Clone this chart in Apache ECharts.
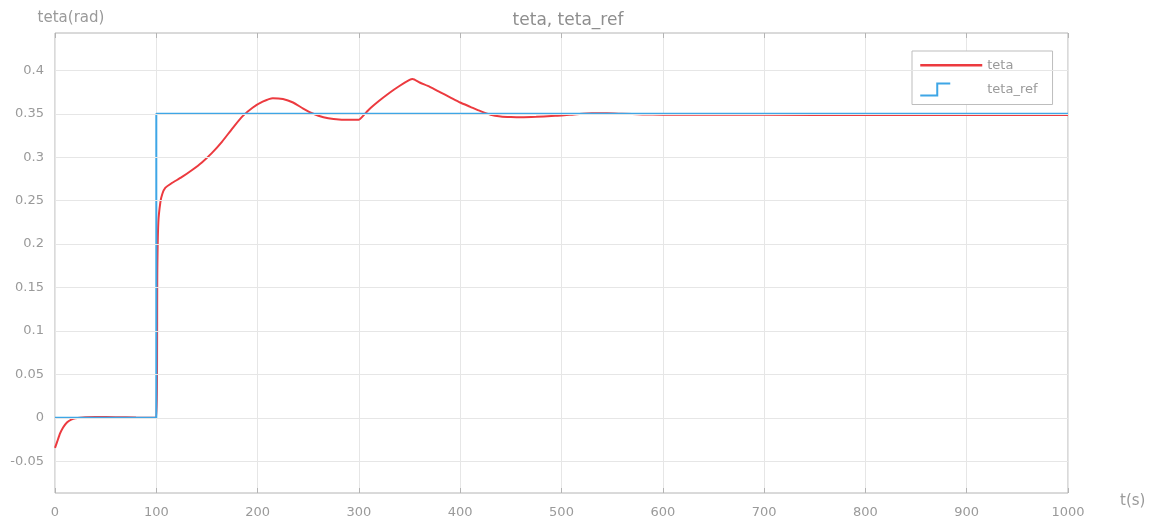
<!DOCTYPE html>
<html>
<head>
<meta charset="utf-8">
<script src="https://cdn.jsdelivr.net/npm/echarts@6/dist/echarts.min.js"></script>
<style>
  html, body { margin: 0; padding: 0; background: #fff; }
  #chart { width: 1153px; height: 524px; }
</style>
</head>
<body>
<div id="chart"></div>
<script>
// Pitch angle response (teta) against its reference (teta_ref)
const tTeta = [0, 2, 5, 8, 12, 16, 20, 30, 40, 60, 80, 100,
  101, 102, 104, 106, 109, 115, 125, 135, 145, 155, 165, 175, 185, 195, 205, 215, 225,
  235, 245, 255, 265, 275, 290, 300, 302, 310, 320, 330, 340, 350, 353, 360, 370, 380,
  390, 400, 410, 420, 430, 440, 450, 460, 475, 490, 500, 515, 530, 545, 560, 580, 600,
  700, 800, 900, 1000];
const teta = [-0.0345, -0.028, -0.018, -0.011, -0.005, -0.002, -0.0005, 0.0008, 0.001, 0.0008, 0.0003, 0,
  0.17, 0.225, 0.248, 0.258, 0.265, 0.27, 0.277, 0.285, 0.294, 0.305, 0.318, 0.333, 0.347, 0.357, 0.364, 0.368, 0.367,
  0.363, 0.356, 0.35, 0.346, 0.344, 0.343, 0.343, 0.345, 0.355, 0.365, 0.374, 0.382, 0.389, 0.39, 0.386, 0.381, 0.375,
  0.369, 0.363, 0.358, 0.353, 0.349, 0.347, 0.3463, 0.346, 0.3465, 0.3475, 0.348, 0.3495, 0.3505, 0.3505, 0.35, 0.3493, 0.349,
  0.3488, 0.3487, 0.3485, 0.3485];

const tRef = [0, 100, 100, 1000];
const tetaRef = [0, 0, 0.35, 0.35];

const yTicks = [-0.05, 0, 0.05, 0.1, 0.15, 0.2, 0.25, 0.3, 0.35, 0.4];

const zip = (xs, ys) => xs.map((x, i) => [x, ys[i]]);

const labelColor = '#9a9a9a';
const gridColor = '#e6e6e6';
const boxColor = '#b4b4b4';
const redColor = '#ec3a3f';
const blueColor = '#3ea6e6';
const font = 'DejaVu Sans';

const chart = echarts.init(document.getElementById('chart'), null, { renderer: 'canvas' });

const yAxisBase = {
  type: 'value', min: -0.0865, max: 0.443,
  axisLine: { show: false, onZero: false },
  axisTick: { show: true, inside: true, length: 5, customValues: yTicks, lineStyle: { color: boxColor } },
  splitLine: { show: false }
};
const xAxisBase = {
  type: 'value', min: 0, max: 1000, interval: 100,
  axisLine: { show: false, onZero: false },
  axisTick: { show: true, inside: true, length: 5, lineStyle: { color: boxColor } },
  splitLine: { show: false }
};

chart.setOption({
  animation: false,
  backgroundColor: '#fff',
  textStyle: { fontFamily: font },
  title: {
    text: 'teta, teta_ref', left: 563, top: 7, textAlign: 'center',
    textStyle: { color: '#8e8e8e', fontSize: 17, fontWeight: 'normal', fontFamily: font }
  },
  grid: { left: 55, right: 85, top: 33, bottom: 31, show: true, borderColor: boxColor, borderWidth: 1, backgroundColor: 'transparent' },
  legend: {
    orient: 'vertical', left: 912, top: 51,
    padding: [6, 15, 7, 7], itemGap: 8, itemWidth: 62, itemHeight: 14,
    backgroundColor: '#fff', borderColor: '#bdbdbd', borderWidth: 1, borderRadius: 0,
    textStyle: { color: labelColor, fontSize: 13, lineHeight: 14, fontFamily: font },
    data: [
      { name: 'teta', icon: 'path://M0,0M62,14M0,7L62,7',
        itemStyle: { color: 'transparent', borderColor: redColor, borderWidth: 2.5 } },
      { name: 'teta_ref', icon: 'path://M0,0M62,14M0,13L17,13L17,1L30,1',
        itemStyle: { color: 'transparent', borderColor: blueColor, borderWidth: 2 } }
    ]
  },
  xAxis: [
    Object.assign({}, xAxisBase, {
      position: 'bottom',
      name: 't(s)', nameLocation: 'end', nameGap: 52,
      nameTextStyle: { color: labelColor, fontSize: 15, fontFamily: font, verticalAlign: 'top', padding: [1, 0, 0, 0] },
      axisLabel: { color: labelColor, fontSize: 13, margin: 13, fontFamily: font, formatter: v => String(v) },
      splitLine: { show: true, lineStyle: { color: gridColor, width: 1 } }
    }),
    Object.assign({}, xAxisBase, { position: 'top', axisLabel: { show: false } })
  ],
  yAxis: [
    Object.assign({}, yAxisBase, {
      position: 'left',
      name: 'teta(rad)', nameLocation: 'end', nameGap: 7,
      nameTextStyle: { color: labelColor, fontSize: 15, fontFamily: font, align: 'center', padding: [0, 0, 0, 32] },
      axisLabel: { color: labelColor, fontSize: 13, margin: 11, fontFamily: font, customValues: yTicks }
    }),
    Object.assign({}, yAxisBase, { position: 'right', axisLabel: { show: false } })
  ],
  series: [
    {
      name: 'teta', type: 'line', xAxisIndex: 0, yAxisIndex: 0,
      data: zip(tTeta, teta), showSymbol: false, smooth: 0.2,
      lineStyle: { color: redColor, width: 2 }, itemStyle: { color: redColor },
      markLine: {
        silent: true, symbol: 'none', label: { show: false }, animation: false,
        lineStyle: { color: gridColor, type: 'solid', width: 1 },
        data: yTicks.map(v => ({ yAxis: v }))
      },
      z: 2
    },
    {
      name: 'teta_ref', type: 'line', xAxisIndex: 0, yAxisIndex: 0,
      data: zip(tRef, tetaRef), showSymbol: false,
      lineStyle: { color: blueColor, width: 2 }, itemStyle: { color: blueColor },
      z: 3
    }
  ]
});
</script>
</body>
</html>
